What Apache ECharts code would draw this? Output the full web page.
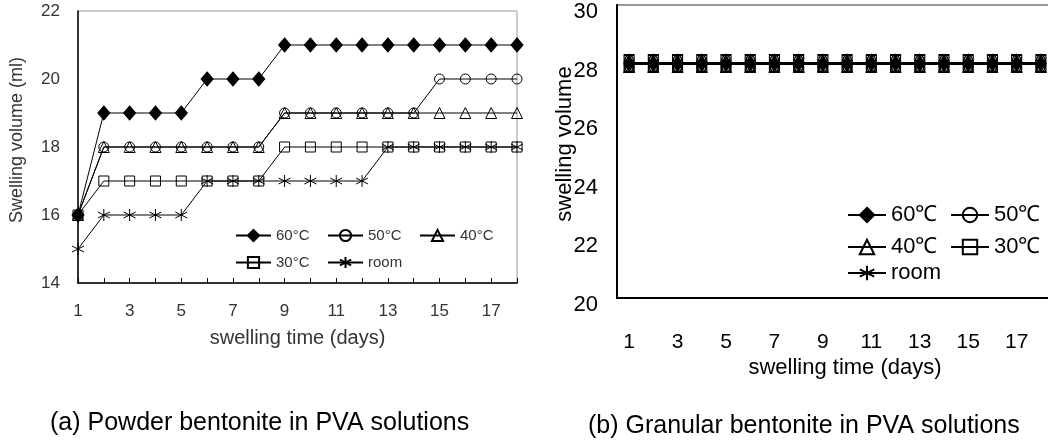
<!DOCTYPE html>
<html>
<head>
<meta charset="utf-8">
<script src="https://cdn.jsdelivr.net/npm/echarts@6/dist/echarts.min.js"></script>
<style>
  html, body { margin: 0; padding: 0; background: #fff; }
  #wrap { position: relative; width: 1048px; height: 444px; }
  #left { position: absolute; left: 0; top: 0; width: 540px; height: 444px; }
  #right { position: absolute; left: 540px; top: 0; width: 508px; height: 444px; }
</style>
</head>
<body>
<div id="wrap">
  <div id="left"></div>
  <div id="right"></div>
</div>
<script>
// swelling time (days)
const days = ['1', '2', '3', '4', '5', '6', '7', '8', '9', '10', '11', '12', '13', '14', '15', '16', '17', '18']

// (a) powder bentonite, swelling volume (ml)
const powder60 = [16, 19, 19, 19, 19, 20, 20, 20, 21, 21, 21, 21, 21, 21, 21, 21, 21, 21]
const powder50 = [16, 18, 18, 18, 18, 18, 18, 18, 19, 19, 19, 19, 19, 19, 20, 20, 20, 20]
const powder40 = [16, 18, 18, 18, 18, 18, 18, 18, 19, 19, 19, 19, 19, 19, 19, 19, 19, 19]
const powder30 = [16, 17, 17, 17, 17, 17, 17, 17, 18, 18, 18, 18, 18, 18, 18, 18, 18, 18]
const powderRoom = [15, 16, 16, 16, 16, 17, 17, 17, 17, 17, 17, 17, 18, 18, 18, 18, 18, 18]

// (b) granular bentonite
const granular60 = [28, 28, 28, 28, 28, 28, 28, 28, 28, 28, 28, 28, 28, 28, 28, 28, 28, 28]
const granular50 = [28, 28, 28, 28, 28, 28, 28, 28, 28, 28, 28, 28, 28, 28, 28, 28, 28, 28]
const granular40 = [28, 28, 28, 28, 28, 28, 28, 28, 28, 28, 28, 28, 28, 28, 28, 28, 28, 28]
const granular30 = [28, 28, 28, 28, 28, 28, 28, 28, 28, 28, 28, 28, 28, 28, 28, 28, 28, 28]
const granularRoom = [28, 28, 28, 28, 28, 28, 28, 28, 28, 28, 28, 28, 28, 28, 28, 28, 28, 28]

const STAR = 'path://M5,0L5,10M0.7,2.5L9.3,7.5M0.7,7.5L9.3,2.5'
const SANS = "'Liberation Sans', Arial, sans-serif"

function lineSeries(name, data, symbol, size, filled, lineWidth, borderWidth) {
  return {
    name,
    type: 'line',
    data,
    symbol,
    symbolSize: size,
    showAllSymbol: true,
    animation: false,
    lineStyle: { color: '#000', width: lineWidth },
    itemStyle: {
      color: filled ? '#000' : 'rgba(0,0,0,0)',
      borderColor: '#000',
      borderWidth
    },
    emphasis: { disabled: true }
  }
}

const leftChart = echarts.init(document.getElementById('left'))
const leftLegend = {
  left: 235,
  padding: 0,
  itemWidth: 35,
  itemHeight: 14,
  itemGap: 5,
  textStyle: { fontFamily: SANS, fontSize: 15, color: '#333', width: 46, lineHeight: 14 }
}
leftChart.setOption({
  animation: false,
  legend: [
    { ...leftLegend, top: 228, data: ['60°C', '50°C', '40°C'] },
    { ...leftLegend, top: 255, data: ['30°C', 'room'] }
  ],
  grid: {
    left: 78, top: 11, width: 439, height: 272,
    outerBoundsMode: 'none',
    show: true, borderColor: '#999', borderWidth: 1
  },
  xAxis: {
    type: 'category',
    data: days,
    boundaryGap: false,
    name: 'swelling time (days)',
    nameLocation: 'middle',
    nameGap: 45,
    nameMoveOverlap: false,
    nameTextStyle: { fontFamily: SANS, fontSize: 20, color: '#333' },
    axisLine: { lineStyle: { color: '#000', width: 1.5 } },
    axisTick: { inside: true, length: 5, interval: 0, lineStyle: { color: '#000' } },
    axisLabel: { interval: 1, margin: 20, fontFamily: SANS, fontSize: 17, color: '#333' }
  },
  yAxis: {
    type: 'value',
    min: 14, max: 22, interval: 2,
    name: 'Swelling volume (ml)',
    nameLocation: 'middle',
    nameGap: 52,
    nameMoveOverlap: false,
    nameTextStyle: { fontFamily: SANS, fontSize: 18, color: '#333', padding: [0, 0, 0, 14] },
    axisLine: { show: true, lineStyle: { color: '#000', width: 1.5 } },
    axisTick: { show: false },
    splitLine: { show: false },
    axisLabel: { margin: 18, fontFamily: SANS, fontSize: 17, color: '#333' }
  },
  graphic: [{
    type: 'text', left: 50, top: 411,
    style: { text: '(a) Powder bentonite in PVA solutions', font: "25px 'Liberation Sans', Arial, sans-serif", fill: '#000' }
  }],
  series: [
    lineSeries('60°C', powder60, 'diamond', [12, 14], true, 1, 1),
    lineSeries('50°C', powder50, 'circle', 10, false, 1, 1),
    lineSeries('40°C', powder40, 'triangle', 11, false, 1, 1),
    lineSeries('30°C', powder30, 'rect', 10, false, 1, 1),
    lineSeries('room', powderRoom, STAR, 12, false, 1, 1)
  ]
})

const rightChart = echarts.init(document.getElementById('right'))
const rightLegend = {
  left: 307,
  padding: 0,
  itemWidth: 38,
  itemHeight: 18,
  itemGap: 9,
  textStyle: { fontFamily: SANS, fontSize: 22, color: '#000', width: 50, lineHeight: 18 }
}
rightChart.setOption({
  animation: false,
  legend: [
    { ...rightLegend, top: 204, data: ['60℃', '50℃'] },
    { ...rightLegend, top: 236, data: ['40℃', '30℃'] },
    { ...rightLegend, top: 262, data: ['room'] }
  ],
  grid: {
    left: 77, top: 5, width: 436, height: 293,
    outerBoundsMode: 'none',
    show: true, borderColor: '#999', borderWidth: 2
  },
  xAxis: {
    type: 'category',
    data: days,
    boundaryGap: true,
    name: 'swelling time (days)',
    nameLocation: 'middle',
    nameGap: 59,
    nameMoveOverlap: false,
    nameTextStyle: { fontFamily: SANS, fontSize: 22, color: '#000', padding: [0, 0, 0, 20] },
    axisLine: { lineStyle: { color: '#000', width: 2 } },
    axisTick: { inside: true, length: 8, interval: 0, lineStyle: { color: '#000', width: 1.5 } },
    axisLabel: { interval: 1, margin: 34, fontFamily: SANS, fontSize: 21, color: '#000' }
  },
  yAxis: {
    type: 'value',
    min: 20, max: 30, interval: 2,
    name: 'swelling volume',
    nameLocation: 'middle',
    nameGap: 41,
    nameMoveOverlap: false,
    nameTextStyle: { fontFamily: SANS, fontSize: 22, color: '#000', padding: [0, 0, 0, 15] },
    axisLine: { show: true, lineStyle: { color: '#000', width: 2 } },
    axisTick: { inside: true, length: 6, lineStyle: { color: '#000', width: 1.5 } },
    splitLine: { show: false },
    axisLabel: {
      margin: 19, verticalAlign: 'top', lineHeight: 14,
      fontFamily: SANS, fontSize: 22, color: '#000'
    }
  },
  graphic: [{
    type: 'text', left: 48, top: 414,
    style: { text: '(b) Granular bentonite in PVA solutions', font: "25px 'Liberation Sans', Arial, sans-serif", fill: '#000' }
  }],
  series: [
    lineSeries('60℃', granular60, 'diamond', [10, 17], true, 2.5, 1),
    lineSeries('50℃', granular50, 'circle', [10, 17], false, 2.5, 1.5),
    lineSeries('40℃', granular40, 'triangle', [10, 17], false, 2.5, 1.5),
    lineSeries('30℃', granular30, 'rect', [10, 17], false, 2.5, 1.5),
    lineSeries('room', granularRoom, STAR, [10, 17], false, 2.5, 1.5)
  ]
})
</script>
</body>
</html>
